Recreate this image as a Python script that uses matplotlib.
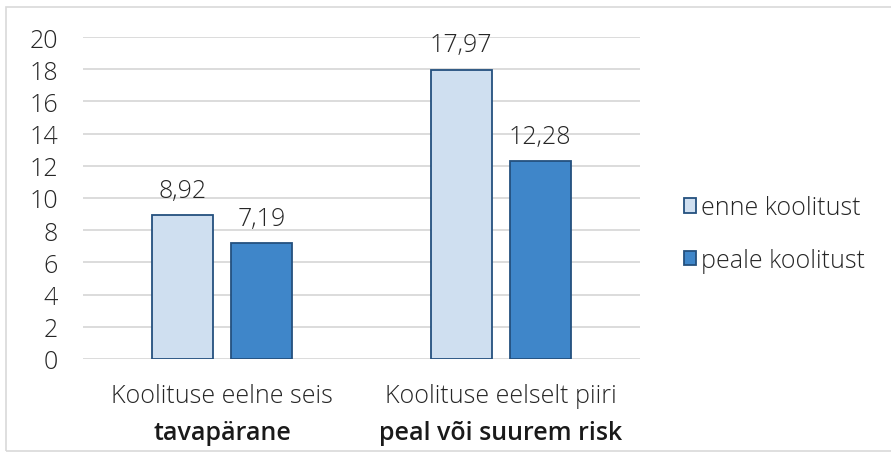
import matplotlib.pyplot as plt
import numpy as np
from matplotlib.patches import Rectangle

# data
categories_top = ['Koolituse eelne seis', 'Koolituse eelselt piiri']
categories_bold = ['tavapärane', 'peal või suurem risk']
series_names = ['enne koolitust', 'peale koolitust']
before = [8.92, 17.97]
after = [7.19, 12.28]

plt.rcParams['font.family'] = ['Open Sans', 'DejaVu Sans']
LIGHT = 300
FS = 18

fig = plt.figure(figsize=(8.91, 4.56), dpi=100)
ax = fig.add_axes([83 / 891, 1 - 360 / 456, (640 - 83) / 891, (360 - 38) / 456])

# outer frame like the spreadsheet chart area
fig.patches.append(Rectangle((6 / 891, 4 / 456), 1.0, 1 - 12 / 456,
                             transform=fig.transFigure, fill=False,
                             edgecolor='#d9d9d9', linewidth=1.2))

x = np.arange(len(categories_top))
w = 0.22
off = 0.142
b1 = ax.bar(x - off, before, w, color='#cfdff0', edgecolor='#24507e',
            linewidth=1.3, label=series_names[0], zorder=3)
b2 = ax.bar(x + off, after, w, color='#3f86c9', edgecolor='#24507e',
            linewidth=1.3, label=series_names[1], zorder=3)

for bars, vals in [(b1, before), (b2, after)]:
    for rect, v in zip(bars, vals):
        ax.annotate(f'{v:.2f}'.replace('.', ','),
                    (rect.get_x() + rect.get_width() / 2, v),
                    xytext=(0, 9), textcoords='offset points',
                    ha='center', va='bottom', fontsize=FS,
                    fontweight=LIGHT, color='#262626')

ax.set_xlim(-0.5, 1.5)
ax.set_ylim(0, 20)
ax.set_yticks(np.arange(0, 21, 2))
ax.yaxis.grid(True, color='#d9d9d9', linewidth=1.3, zorder=0)
ax.set_axisbelow(True)
for s in ax.spines.values():
    s.set_visible(False)
ax.tick_params(axis='y', length=0, pad=18, labelsize=FS, labelcolor='#262626')
for t in ax.get_yticklabels():
    t.set_fontweight(LIGHT)

ax.set_xticks(x)
ax.set_xticklabels([])
ax.tick_params(axis='x', length=0)
for xi, top, bold in zip(x, categories_top, categories_bold):
    ax.annotate(top, (xi, 0), xycoords=('data', 'axes fraction'),
                xytext=(0, -17), textcoords='offset points',
                ha='center', va='top', fontsize=FS, fontweight=LIGHT,
                color='#262626')
    ax.annotate(bold, (xi, 0), xycoords=('data', 'axes fraction'),
                xytext=(0, -44), textcoords='offset points',
                ha='center', va='top', fontsize=FS, fontweight='semibold',
                color='#1a1a1a')

leg = fig.legend(handles=[b1, b2], loc='center left',
                 bbox_to_anchor=(661 / 891, 1 - 235 / 456), frameon=False,
                 fontsize=FS, handlelength=0.5, handleheight=0.5,
                 handletextpad=0.2, labelspacing=1.1)
for t in leg.get_texts():
    t.set_fontweight(LIGHT)
    t.set_color('#262626')

fig.savefig('out.png', dpi=100)
